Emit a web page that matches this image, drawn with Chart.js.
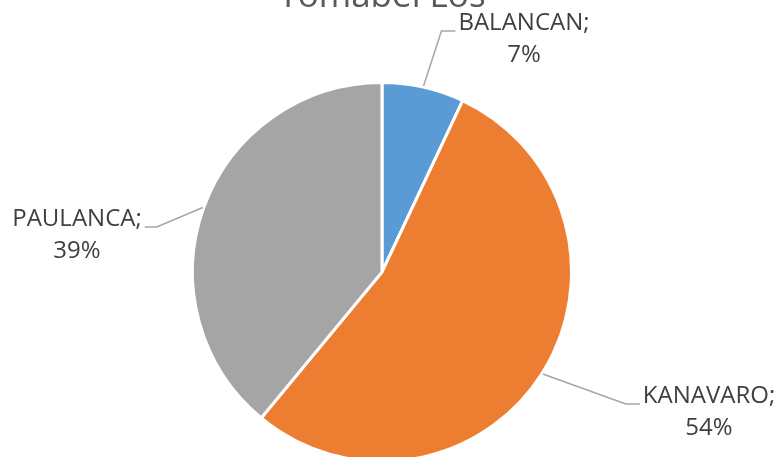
<!DOCTYPE html>
<html>
<head>
<meta charset="utf-8">
<script src="https://cdn.jsdelivr.net/npm/chart.js@4.4.1/dist/chart.umd.min.js"></script>
<style>
  html, body { margin: 0; padding: 0; background: #fff; }
  #frame { position: relative; width: 784px; height: 457px; overflow: hidden; }
  #box { position: absolute; left: 0; top: -30px; width: 784px; height: 493px; }
</style>
</head>
<body>
<div id="frame"><div id="box"><canvas id="pieChart"></canvas></div></div>
<script>
const title = "Tomabel Los";
const categories = ["BALANCAN", "KANAVARO", "PAULANCA"];
const shares = [7, 54, 39];
const colors = ["#5B9BD5", "#ED7D31", "#A5A5A5"];

// draws the "NAME; xx%" labels outside the pie with elbow leader lines
const outsideLabels = {
  id: "outsideLabels",
  afterDatasetsDraw(chart, args, opts) {
    const ctx = chart.ctx;
    const meta = chart.getDatasetMeta(0);
    ctx.save();
    ctx.font = opts.size + "px 'Open Sans'";
    ctx.textAlign = "center";
    ctx.textBaseline = "middle";
    meta.data.forEach((arc, i) => {
      const mid = (arc.startAngle + arc.endAngle) / 2;
      const r = arc.outerRadius + 1;
      const sx = arc.x + Math.cos(mid) * r;
      const sy = arc.y + Math.sin(mid) * r;
      const [dx, dy] = opts.offsets[i];
      const tx = arc.x + dx;
      const ty = arc.y + dy;
      const line1 = chart.data.labels[i] + ";";
      const line2 = chart.data.datasets[0].data[i] + "%";
      const w = ctx.measureText(line1).width;
      const ly = ty - opts.gap / 2 + 8;
      let endX, elbowX;
      if (dx > 0) {
        endX = tx - w / 2 - 3;
        elbowX = endX - 14;
      } else {
        endX = tx + w / 2 + 3;
        elbowX = endX + 12;
      }
      ctx.strokeStyle = "#A6A6A6";
      ctx.lineWidth = 1.5;
      ctx.beginPath();
      ctx.moveTo(sx, sy);
      ctx.lineTo(elbowX, ly);
      ctx.lineTo(endX, ly);
      ctx.stroke();
      ctx.fillStyle = "#404040";
      ctx.fillText(line1, tx, ty - opts.gap / 2);
      ctx.fillText(line2, tx, ty + opts.gap / 2);
    });
    ctx.restore();
  }
};

new Chart(document.getElementById("pieChart"), {
  type: "pie",
  data: {
    labels: categories,
    datasets: [
      {
        data: shares,
        backgroundColor: colors,
        borderColor: "#ffffff",
        borderWidth: 3
      }
    ]
  },
  options: {
    responsive: true,
    maintainAspectRatio: false,
    animation: false,
    layout: { padding: { left: 0, right: 20, top: 0, bottom: 0 } },
    plugins: {
      legend: { display: false },
      tooltip: { enabled: false },
      title: {
        display: true,
        text: title,
        color: "#595959",
        font: { family: "'Open Sans'", size: 35, weight: "normal" },
        padding: { top: 6, bottom: 63 }
      },
      outsideLabels: {
        size: 24,
        gap: 32,
        offsets: [[142, -233], [327, 140], [-305, -37]]
      }
    }
  },
  plugins: [outsideLabels]
});
</script>
</body>
</html>
